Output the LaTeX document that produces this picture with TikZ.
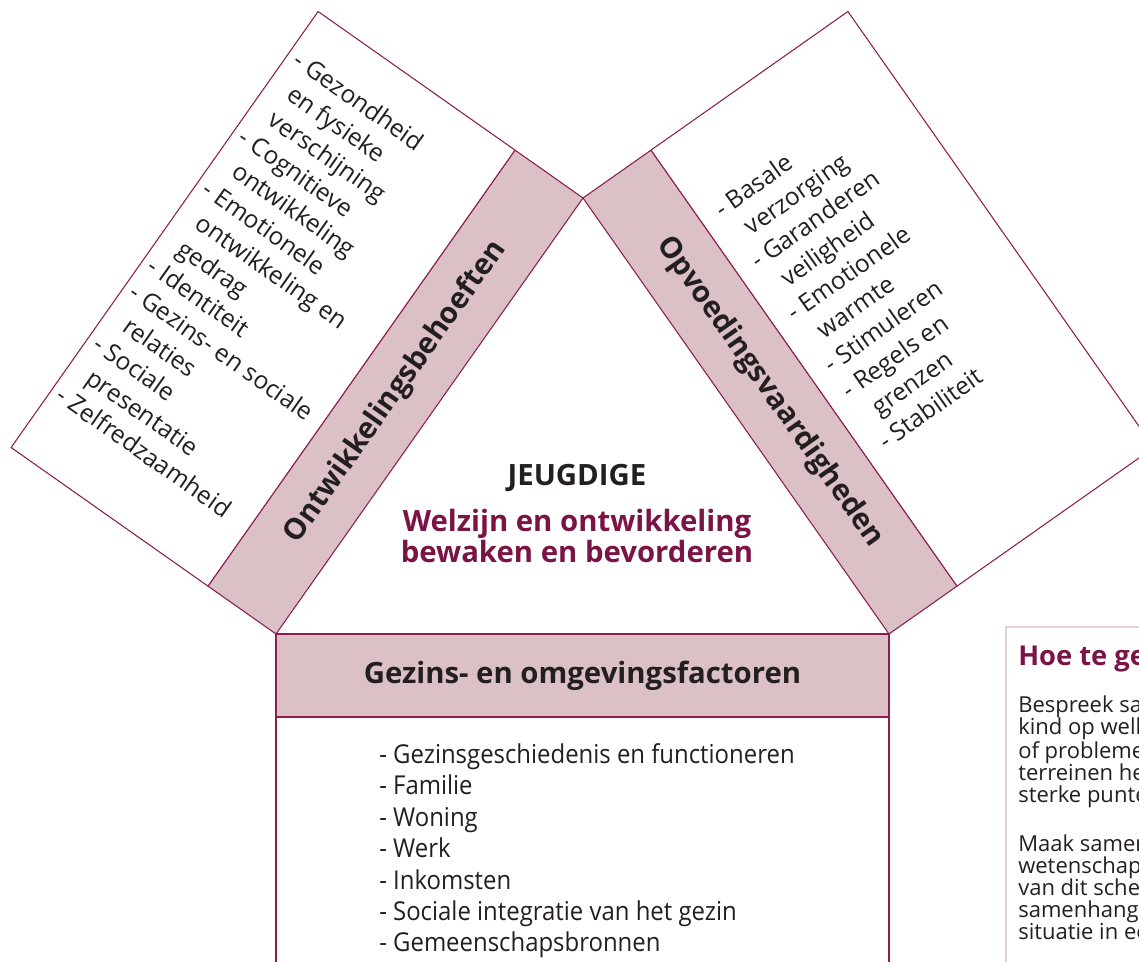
\documentclass[tikz,border=0pt]{standalone}
\usepackage{fontspec}
\setmainfont{Open Sans}
\newfontfamily\narrowfont[FakeStretch=0.92]{Open Sans}
\definecolor{linemaroon}{RGB}{140,30,80}
\definecolor{bandpink}{RGB}{219,193,197}
\definecolor{titlemaroon}{RGB}{122,20,68}
\definecolor{textdark}{RGB}{35,31,32}
\definecolor{boxpink}{RGB}{232,208,213}
\usetikzlibrary{positioning}

\begin{document}
\begin{tikzpicture}[x=0.75pt, y=0.75pt]
\tikzset{panel/.style={fill=white, draw=linemaroon, line width=0.8pt},
  band/.style={fill=bandpink, draw=linemaroon, line width=0.8pt, line join=round},
  bandtitle/.style={font=\fontsize{22}{26}\selectfont\bfseries, text=textdark, inner sep=0pt},
  listtext/.style={font=\fontsize{18.4}{23.7}\selectfont, text=textdark, align=left, inner sep=0pt},
  boxtext/.style={font=\fontsize{16.5}{16.5}\selectfont, text=textdark, align=left, inner sep=0pt, anchor=north west}}
\useasboundingbox (0,-962) rectangle (1139,0);
\clip (0,-962) rectangle (1139,0);
% triangle corners and outer corners
\coordinate (apex) at (583,-198);
\coordinate (bl) at (276,-634);
\coordinate (br) at (889,-634);
\coordinate (l1) at (515.1,-150.2);
\coordinate (l2) at (208.1,-586.2);
\coordinate (l3) at (11.1,-447.5);
\coordinate (l4) at (318.1,-11.5);
\coordinate (r1) at (650.9,-150.2);
\coordinate (r2) at (956.9,-586.2);
\coordinate (r3) at (1153.9,-447.5);
\coordinate (r4) at (847.9,-11.5);
% side panels
\draw [panel] (l4) -- (l1) -- (l2) -- (l3) -- cycle;
\draw [band] (l1) -- (apex) -- (bl) -- (l2) -- cycle;
\draw [panel] (r4) -- (r3) -- (r2) -- (r1) -- cycle;
\draw [band] (r1) -- (apex) -- (br) -- (r2) -- cycle;
% bottom panel
\draw [panel] (276,-717) rectangle (889,-1000);
\draw [band] (bl) rectangle (889,-717);
\node (needs) [bandtitle, rotate=54.85] at (395.6,-392.1) {Ontwikkelingsbehoeften};
\node (skills) [bandtitle, rotate=-54.85] at (769.9,-392.1) {Opvoedingsvaardigheden};
\node (factors) [bandtitle] at (582.5,-675.5) {Gezins- en omgevingsfactoren};
% centre
\node (youth) [font=\fontsize{22}{26}\selectfont\bfseries, text=textdark] at (577,-478) {JEUGDIGE};
\node (aim) [font=\fontsize{22}{23.6}\selectfont\bfseries, text=titlemaroon, align=center] at (577,-536) {Welzijn en ontwikkeling\\bewaken en bevorderen};
% lists
\node (needlist) [listtext, rotate=-35.2, anchor=north west] at (302.3,-48.5) {- Gezondheid\\\phantom{- }en fysieke\\\phantom{- }verschijning\\- Cognitieve\\\phantom{- }ontwikkeling\\- Emotionele\\\phantom{- }ontwikkeling en\\\phantom{- }gedrag\\- Identiteit\\- Gezins- en sociale\\\phantom{- }relaties\\- Sociale\\\phantom{- }presentatie\\- Zelfredzaamheid};
\node (skilllist) [listtext, rotate=35.2, anchor=north west] at (711,-203) {- Basale\\\phantom{- }verzorging\\- Garanderen\\\phantom{- }veiligheid\\- Emotionele\\\phantom{- }warmte\\- Stimuleren\\- Regels en\\\phantom{- }grenzen\\- Stabiliteit};
\node (factorlist) [listtext, font=\narrowfont\fontsize{19.5}{23.6}\selectfont, anchor=north west] at (379,-743) {- Gezinsgeschiedenis en functioneren\\- Familie\\- Woning\\- Werk\\- Inkomsten\\- Sociale integratie van het gezin\\- Gemeenschapsbronnen};
% side box
\draw [draw=boxpink, line width=1pt] (1006,-627) rectangle (1200,-1000);
\node (howto) [font=\fontsize{20.5}{24}\selectfont\bfseries, text=titlemaroon, anchor=base west, inner sep=0pt] at (1018,-665) {Hoe te ge};
\node (howto1) [boxtext] at (1018,-696) {Bespreek sa\\kind op welk\\of probleme\\terreinen he\\sterke punte};
\node (howto2) [boxtext] at (1018,-835) {Maak samen\\wetenschap\\van dit sche\\samenhange\\situatie in ee};
\end{tikzpicture}
\end{document}
